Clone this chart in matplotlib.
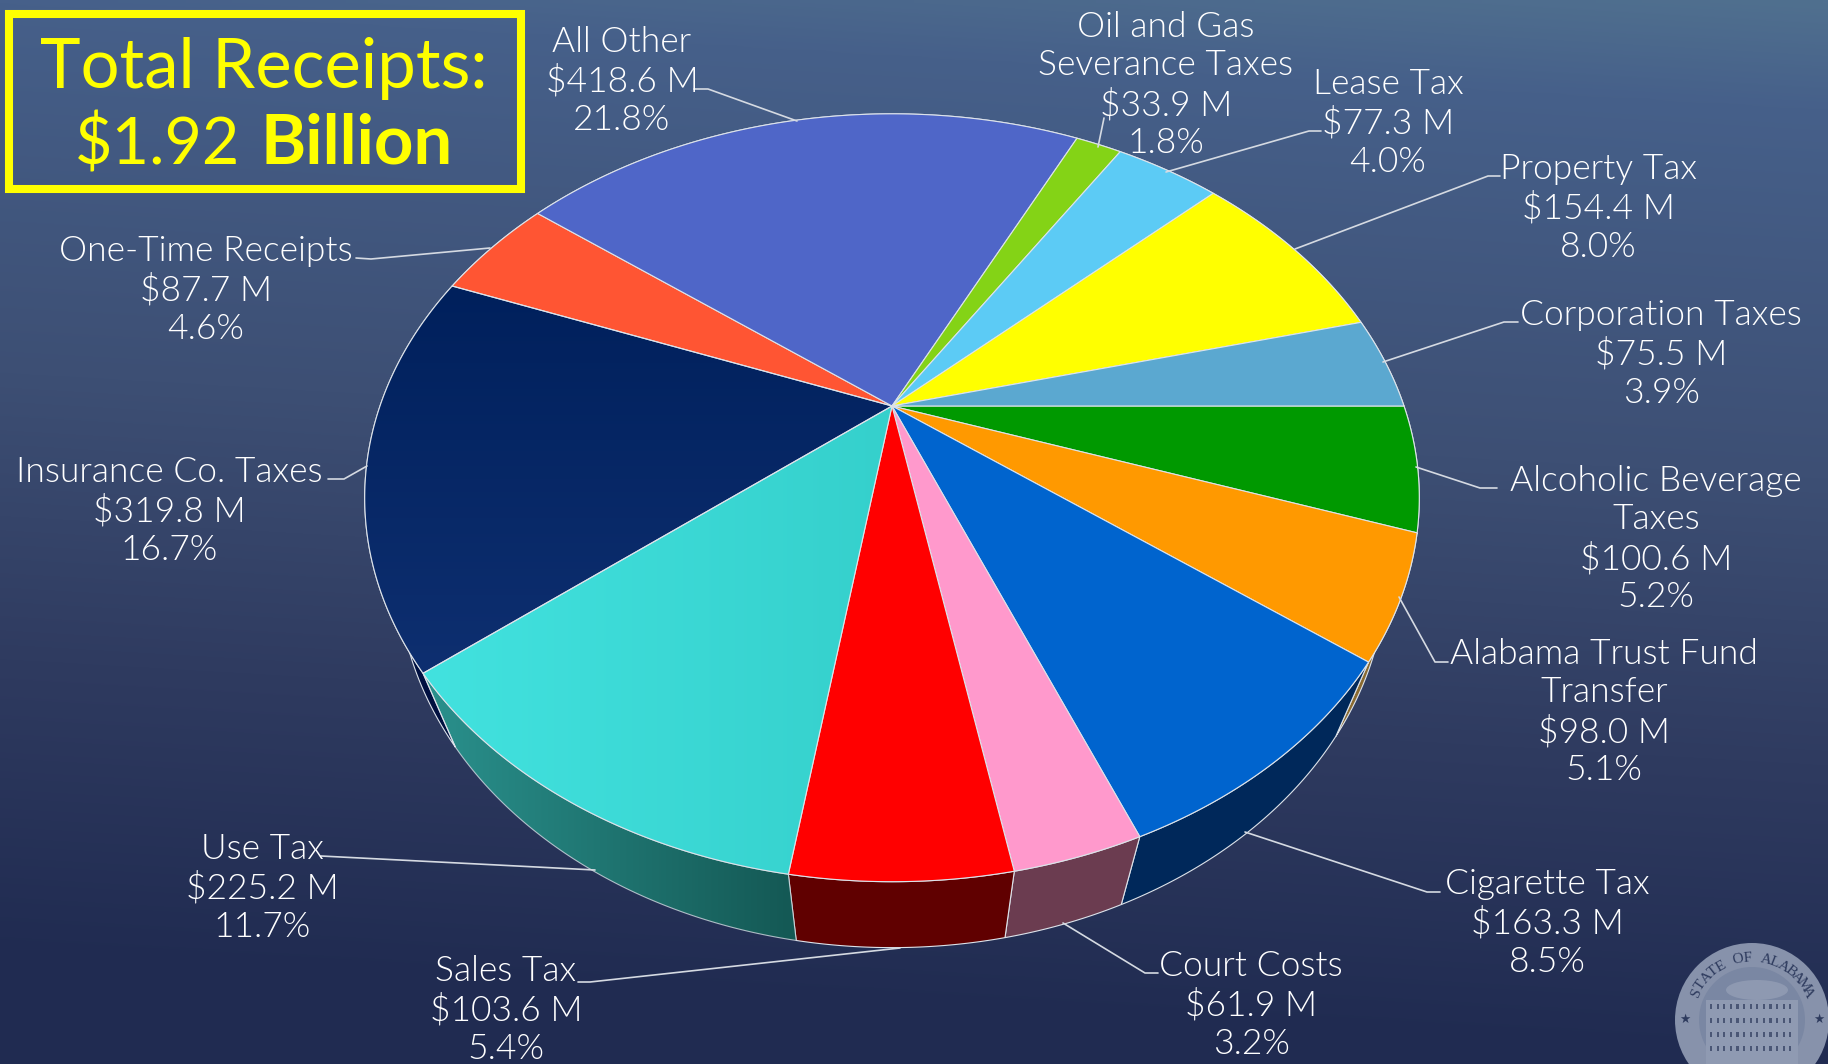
import numpy as np
import matplotlib
matplotlib.use("Agg")
import matplotlib.pyplot as plt
from matplotlib.colors import LinearSegmentedColormap, to_rgb
from matplotlib.patches import Circle, Ellipse, Polygon, Rectangle

# receipts, clockwise from the horizontal on the right
names = ["Alcoholic Beverage\nTaxes", "Alabama Trust Fund\nTransfer", "Cigarette Tax",
         "Court Costs", "Sales Tax", "Use Tax", "Insurance Co. Taxes", "One-Time Receipts",
         "All Other", "Oil and Gas\nSeverance Taxes", "Lease Tax", "Property Tax",
         "Corporation Taxes"]
amounts = [100.6, 98.0, 163.3, 61.9, 103.6, 225.2, 319.8, 87.7, 418.6, 33.9, 77.3, 154.4, 75.5]
shares = ["5.2%", "5.1%", "8.5%", "3.2%", "5.4%", "11.7%", "16.7%", "4.6%", "21.8%", "1.8%",
          "4.0%", "8.0%", "3.9%"]

top_colors = ["#009900", "#FF9900", "#0064CE", "#FF99CC", "#FF0000", "#3DDAD7", "#04235F",
              "#FF5533", "#4F66C8", "#84D316", "#5CCBF5", "#FFFF00", "#5BA8D0"]
rim_colors = ["#004400", "#8A6A30", "#00285A", "#6B3C50", "#600000", "#1C7472", "#001040",
              "#802A18", "#283364", "#426A0B", "#2E657A", "#808000", "#2D5468"]

# label centres and leader lines, in pixels
label_pos = [(1656, 539), (1604, 712), (1547, 923), (1251, 1005), (506, 1010), (262, 888),
             (169, 511), (206, 290), (622, 81), (1166, 85), (1388, 123), (1598, 208), (1661, 354)]
leaders = [
    [(1416, 467), (1480, 488), (1497, 488)],
    [(1399, 597), (1435, 662), (1448, 662)],
    [(1245, 832), (1427, 892), (1440, 892)],
    [(1063, 923), (1145, 973), (1158, 973)],
    [(900, 948), (590, 982), (578, 982)],
    [(595, 870), (321, 856)],
    [(367, 466), (344, 479), (328, 479)],
    [(490, 248), (371, 259), (356, 258)],
    [(797, 121), (708, 89), (694, 89)],
    [(1098, 147), (1104, 118)],
    [(1166, 172), (1309, 131), (1321, 131)],
    [(1295, 249), (1488, 176), (1500, 176)],
    [(1383, 362), (1504, 322), (1518, 322)],
]

W, H = 1828, 1064
FONT = "Lato"
EDGE = "#DDE3EA"

# perspective of the pie plate
cx, cy = 892, 406
rx, ry = 512, 362
persp = 0.239
vanish = np.array([892, 1744])
depth = 0.063


def top_edge(theta):
    u, v = np.cos(theta), np.sin(theta)
    w = 1 + persp * v
    return np.column_stack([cx + rx * u / w, cy - ry * v / w])


def bottom_edge(theta):
    w = 1 + persp * np.sin(theta)
    s = (depth / (w + depth))[:, None]
    return top_edge(theta) + s * (vanish - top_edge(theta))


def gradient_fill(ax, verts, c0, c1, vertical=False, zorder=2):
    cmap = LinearSegmentedColormap.from_list("g", [c0, c1])
    ramp = np.linspace(0, 1, 256)
    ramp = ramp[:, None] if vertical else ramp[None, :]
    x0, y0 = verts.min(axis=0)
    x1, y1 = verts.max(axis=0)
    im = ax.imshow(ramp, cmap=cmap, extent=(x0, x1, y1, y0), aspect="auto", zorder=zorder,
                   interpolation="bilinear")
    im.set_clip_path(Polygon(verts, transform=ax.transData))


fig = plt.figure(figsize=(W / 100, H / 100), dpi=100)
ax = fig.add_axes([0, 0, 1, 1])

# background wash, lighter towards the top right
yy, xx = np.mgrid[0:1:200j, 0:1:200j]
t = np.clip(yy - 0.10 * xx + 0.10, 0, 1)
stops = np.array([to_rgb(c) for c in ["#50708F", "#46608A", "#3D4F74", "#2F3B60", "#1F2A50"]])
pos = [0, 0.1, 0.45, 0.72, 1.02]
bg = np.dstack([np.interp(t, pos, stops[:, i]) for i in range(3)])
ax.imshow(bg, extent=(0, W, H, 0), aspect="auto", zorder=0, interpolation="bilinear")

# wedge angles come straight from the amounts
edges = -2 * np.pi * np.concatenate([[0], np.cumsum(amounts)]) / np.sum(amounts)
arcs = [np.linspace(edges[i], edges[i + 1], 120) for i in range(len(amounts))]

for arc, color, name in zip(arcs, rim_colors, names):
    verts = np.vstack([top_edge(arc), bottom_edge(arc)[::-1]])
    if name == "Use Tax":
        gradient_fill(ax, verts, "#2A918D", "#145854")
        ax.add_patch(Polygon(verts, fc="none", ec=EDGE, lw=0.8, alpha=0.75, zorder=3))
    else:
        ax.add_patch(Polygon(verts, fc=color, ec=EDGE, lw=0.8, zorder=2))

for arc, color, name in zip(arcs, top_colors, names):
    verts = np.vstack([[(cx, cy)], top_edge(arc)])
    if name == "Use Tax":
        gradient_fill(ax, verts, "#42E2DF", "#35D0CC", zorder=4)
        ax.add_patch(Polygon(verts, fc="none", ec=EDGE, lw=0.8, zorder=5))
    elif name == "Insurance Co. Taxes":
        gradient_fill(ax, verts, "#00205C", "#0E2F70", vertical=True, zorder=4)
        ax.add_patch(Polygon(verts, fc="none", ec=EDGE, lw=0.8, zorder=5))
    else:
        ax.add_patch(Polygon(verts, fc=color, ec=EDGE, lw=0.8, zorder=4))

for pts in leaders:
    ax.plot(*zip(*pts), color="#D5DAE2", lw=1.2, zorder=6, solid_capstyle="round")

for (x, y), name, amount, share in zip(label_pos, names, amounts, shares):
    ax.text(x, y, f"{name}\n\\${amount:.1f} M\n{share}", ha="center", va="center",
            ma="center", color="white", family=FONT, weight=300, fontsize=25.5,
            linespacing=1.24, zorder=7)

# total box
ax.add_patch(Rectangle((9, 14), 512, 175, fc="none", ec="#FFFF00", lw=5.8, zorder=7))
ax.text(264, 88, "Total Receipts:", color="#FFFF00", family=FONT, fontsize=49.5, ha="center",
        va="baseline", zorder=8)
ax.text(240, 164, "\\$1.92", color="#FFFF00", family=FONT, fontsize=46.5,
        ha="right", va="baseline", zorder=8)
ax.text(261, 164, "Billion", color="#FFFF00", family=FONT, fontsize=49.5, weight="bold",
        ha="left", va="baseline", zorder=8)

# agency seal in the corner
sx, sy, sr = 1752, 1020, 77
ax.add_patch(Circle((sx, sy), sr, fc="#8792AB", ec="none", zorder=1))
ax.add_patch(Circle((sx, sy), sr - 24, fc="#7A87A3", ec="none", zorder=1))
ax.add_patch(Ellipse((sx + 5, sy - 30), 62, 20, fc="#8E99B1", ec="none", zorder=1))
ax.add_patch(Rectangle((sx - 46, sy - 20), 92, 70, fc="#8F9AB2", ec="none", zorder=1))
for row in range(4):
    for col in range(13):
        ax.add_patch(Rectangle((sx - 42 + col * 6.6, sy - 16 + row * 14), 2.2, 5,
                               fc="#4A5675", ec="none", zorder=1))
for ch, ang in zip("STATE OF ALABAMA", np.linspace(154, 26, 16)):
    a = np.radians(ang)
    ax.text(sx + 62 * np.cos(a), sy - 62 * np.sin(a), ch, rotation=ang - 90, rotation_mode="anchor",
            ha="center", va="center", fontsize=11, family="Liberation Serif", color="#2E3B5E", zorder=1)
for ang in (178, 2):
    a = np.radians(ang)
    ax.text(sx + 67 * np.cos(a), sy + 2 - 67 * np.sin(a), "\u2605", ha="center", va="center",
            fontsize=9, family="DejaVu Sans", color="#2E3B5E", zorder=1)

ax.set_xlim(0, W)
ax.set_ylim(H, 0)
ax.axis("off")
fig.savefig("out.png", dpi=100)
